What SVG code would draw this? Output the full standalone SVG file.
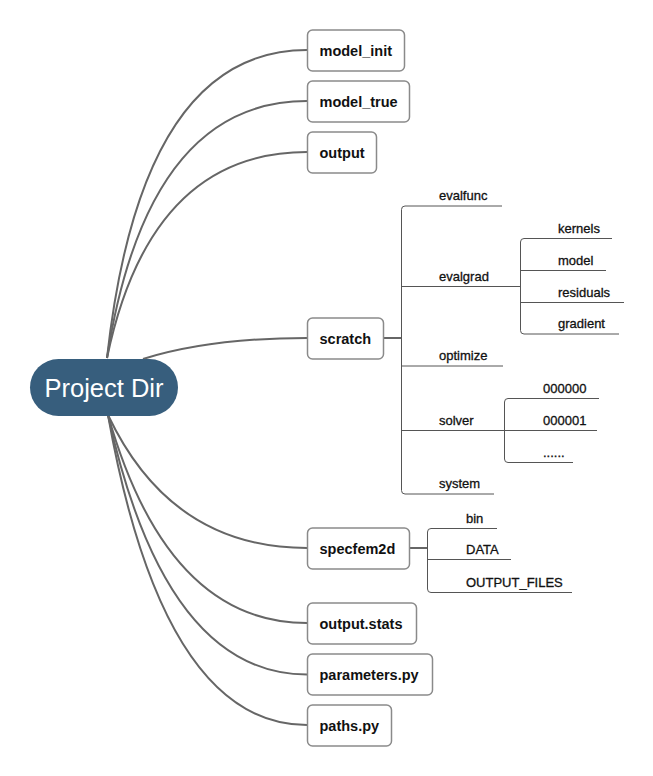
<svg xmlns="http://www.w3.org/2000/svg" width="653" height="776" viewBox="0 0 653 776">
<style>
.bg{fill:#ffffff}
.box{fill:#ffffff;stroke:#8a8a8a;stroke-width:1.5}
.bt{font-family:"Liberation Sans",Arial,sans-serif;font-size:14.5px;font-weight:bold;fill:#111111}
.lt{font-family:"Liberation Sans",Arial,sans-serif;font-size:13px;fill:#111111;stroke:#111111;stroke-width:0.3}
.root{fill:#375e7d}
.rt{font-family:"Liberation Sans",Arial,sans-serif;font-size:25.5px;fill:#ffffff}
.curve{fill:none;stroke:#666666;stroke-width:2}
.br{fill:none;stroke:#555555;stroke-width:1}
.stub{fill:none;stroke:#666666;stroke-width:2}
</style>
<rect class="bg" x="0" y="0" width="653" height="776"/>
<g id="connectors">
<path class="curve" d="M107,358 Q141,50 307,50"/>
<path class="curve" d="M107,358 Q147,101 307,101"/>
<path class="curve" d="M107,358 Q150,152 307,152"/>
<path class="curve" d="M143,359 Q210,338 307,338"/>
<path class="curve" d="M108,415 Q171,548 307,548"/>
<path class="curve" d="M108,415 Q167,623 307,623"/>
<path class="curve" d="M108,415 Q165,674.5 307,674.5"/>
<path class="curve" d="M108,415 Q163,725 307,725"/>
<path class="stub" d="M383,338 L401,338"/>
<path class="br" d="M405,206 Q401.5,206 401.5,209.5 L401.5,490.5 Q401.5,494 405,494"/>
<path class="br" d="M405,206 L502,206"/>
<path class="br" d="M401.5,286.5 L520.5,286.5"/>
<path class="br" d="M401.5,366 L503,366"/>
<path class="br" d="M401.5,430.5 L504.5,430.5"/>
<path class="br" d="M405,494 L494,494"/>
<path class="br" d="M524,238.5 Q520.5,238.5 520.5,242 L520.5,330.5 Q520.5,334 524,334"/>
<path class="br" d="M524,238.5 L612,238.5"/>
<path class="br" d="M520.5,270.5 L606,270.5"/>
<path class="br" d="M520.5,302.5 L624,302.5"/>
<path class="br" d="M524,334 L619,334"/>
<path class="br" d="M508,398.5 Q504.5,398.5 504.5,402 L504.5,459 Q504.5,462.5 508,462.5"/>
<path class="br" d="M508,398.5 L599,398.5"/>
<path class="br" d="M504.5,430.5 L597,430.5"/>
<path class="br" d="M508,462.5 L573,462.5"/>
<path class="stub" d="M409,548 L427,548"/>
<path class="br" d="M431,528.5 Q427.5,528.5 427.5,532 L427.5,589 Q427.5,592.5 431,592.5"/>
<path class="br" d="M431,528.5 L497,528.5"/>
<path class="br" d="M427.5,559.5 L511,559.5"/>
<path class="br" d="M431,592.5 L572,592.5"/>
</g>
<g id="root">
<rect class="root" x="30" y="359" width="148" height="57" rx="28.5"/>
<text class="rt" x="104" y="397" text-anchor="middle">Project Dir</text>
</g>
<g id="model_init"><rect class="box" x="307.5" y="30" width="97" height="41" rx="5"/><text class="bt" x="319.5" y="56">model_init</text></g>
<g id="model_true"><rect class="box" x="307.5" y="81" width="102" height="41" rx="5"/><text class="bt" x="319.5" y="107">model_true</text></g>
<g id="output"><rect class="box" x="307.5" y="132" width="69" height="41" rx="5"/><text class="bt" x="319.5" y="158">output</text></g>
<g id="scratch"><rect class="box" x="307.5" y="318" width="76" height="41" rx="5"/><text class="bt" x="319.5" y="344">scratch</text></g>
<g id="specfem2d"><rect class="box" x="307.5" y="528" width="102" height="41" rx="5"/><text class="bt" x="319.5" y="554">specfem2d</text></g>
<g id="output_stats"><rect class="box" x="307.5" y="603" width="109" height="41" rx="5"/><text class="bt" x="319.5" y="629">output.stats</text></g>
<g id="parameters_py"><rect class="box" x="307.5" y="654" width="125" height="41" rx="5"/><text class="bt" x="319.5" y="680">parameters.py</text></g>
<g id="paths_py"><rect class="box" x="307.5" y="705" width="84" height="41" rx="5"/><text class="bt" x="319.5" y="731">paths.py</text></g>
<g id="evalfunc"><text class="lt" x="439" y="200">evalfunc</text></g>
<g id="evalgrad"><text class="lt" x="439" y="280.5">evalgrad</text></g>
<g id="kernels"><text class="lt" x="558" y="232.5">kernels</text></g>
<g id="model"><text class="lt" x="558" y="264.5">model</text></g>
<g id="residuals"><text class="lt" x="558" y="296.5">residuals</text></g>
<g id="gradient"><text class="lt" x="558" y="328">gradient</text></g>
<g id="optimize"><text class="lt" x="439" y="360">optimize</text></g>
<g id="solver"><text class="lt" x="439" y="424.5">solver</text></g>
<g id="n000000"><text class="lt" x="543" y="392.5">000000</text></g>
<g id="n000001"><text class="lt" x="543" y="424.5">000001</text></g>
<g id="ellipsis"><text class="lt" x="543" y="456.5">......</text></g>
<g id="system"><text class="lt" x="439" y="488">system</text></g>
<g id="bin"><text class="lt" x="466" y="522.5">bin</text></g>
<g id="DATA"><text class="lt" x="466" y="553.5">DATA</text></g>
<g id="OUTPUT_FILES"><text class="lt" x="466" y="586.5">OUTPUT_FILES</text></g>
</svg>
